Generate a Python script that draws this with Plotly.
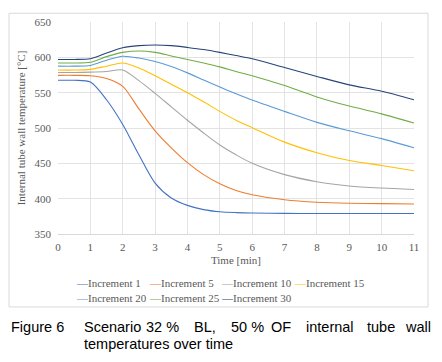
import plotly.graph_objects as go

time_min = [0, 0.5, 1, 1.5, 2, 2.5, 3, 3.5, 4, 4.5, 5, 5.5, 6, 7, 8, 9, 10, 11]

inc1 = [567.5, 567.5, 565, 540, 505, 462, 422, 401, 390.5, 384.5, 381.5, 380.3, 379.7, 379.2, 379, 379, 379, 379]
inc5 = [574.5, 574.5, 574, 570, 559, 527, 496, 472, 451, 434, 421, 411.5, 405.5, 398.5, 395, 393.5, 393, 392.5]
inc10 = [578.5, 578.5, 579, 580, 582, 567, 549, 530, 511, 493, 476, 462, 450, 434, 424, 418, 415, 413]
inc15 = [582, 582, 583, 587.5, 592, 585, 574, 562, 550, 537, 523.5, 511, 500.5, 480, 465, 454, 447, 439.5]
inc20 = [587.5, 587.5, 588.5, 596, 601.5, 599, 594, 587, 578, 568, 558, 548.5, 539.5, 523.5, 508, 496, 485, 472]
inc25 = [592, 592, 593, 601, 607, 609, 607, 602, 597, 592, 586.5, 580, 574, 560, 544, 531, 520, 507]
inc30 = [597, 597, 598, 606, 613.5, 616.5, 617.5, 616.5, 614, 611, 607, 602.5, 598, 585.5, 573, 561, 552, 540]

series_names = ["Increment 1", "Increment 5", "Increment 10", "Increment 15",
                "Increment 20", "Increment 25", "Increment 30"]
series_values = [inc1, inc5, inc10, inc15, inc20, inc25, inc30]
colors = ["#4472C4", "#ED7D31", "#A5A5A5", "#FFC000", "#5B9BD5", "#70AD47", "#264478"]

x_ticks = list(range(0, 12))
y_ticks = [350, 400, 450, 500, 550, 600, 650]

caption_line1 = ["Figure 6", "Scenario", "32 %", "BL,", "50 %", "OF", "internal", "tube", "wall"]
caption_line2 = "temperatures over time"

# the page body adds an 8px offset; figure is sized to fit the window
OFF = 8
W, H = 442 - OFF, 362 - OFF
ML, MT = 58 - OFF, 16 - OFF
MR = W - (414 - OFF)
MB = H - (234 - OFF)
PW, PH = W - ML - MR, H - MT - MB


def px_x(p):
    return (p - OFF - ML) / PW


def px_y(p):
    return (H - MB - (p - OFF)) / PH


fig = go.Figure()
for name, vals, col in zip(series_names, series_values, colors):
    fig.add_trace(go.Scatter(
        x=time_min, y=vals, mode="lines", name=name,
        line=dict(color=col, width=1.1, shape="spline", smoothing=0.8),
        showlegend=False,
    ))

serif = "Liberation Serif, Times New Roman, serif"
tick_font = dict(family=serif, size=11, color="#595959")

fig.update_layout(
    width=W, height=H,
    margin=dict(l=ML, r=MR, t=MT, b=MB),
    paper_bgcolor="white", plot_bgcolor="white",
    xaxis=dict(range=[0, 11], tickvals=x_ticks, ticktext=[str(v) for v in x_ticks],
               showgrid=True, gridcolor="#E3E3E3", gridwidth=1, zeroline=False,
               showline=True, linecolor="#D9D9D9", linewidth=1,
               ticks="", tickfont=tick_font, ticklabelstandoff=3,
               title=dict(text="Time [min]", font=dict(family=serif, size=11, color="#595959"),
                          standoff=4)),
    yaxis=dict(range=[350, 650], tickvals=y_ticks, ticktext=[str(v) for v in y_ticks],
               showgrid=True, gridcolor="#E3E3E3", gridwidth=1, zeroline=False,
               showline=False, ticks="", tickfont=tick_font, ticklabelstandoff=6,
               title=dict(text="Internal tube wall temperature [°C]",
                          font=dict(family=serif, size=11, color="#595959"), standoff=6)),
    showlegend=False,
)

# chart area border
fig.add_shape(type="rect", xref="paper", yref="paper",
              x0=px_x(9), x1=px_x(428), y0=px_y(309), y1=px_y(7),
              line=dict(color="#D9D9D9", width=1), fillcolor="rgba(0,0,0,0)", layer="below")

# legend (colored dash + name)
leg_pos = [(74, 284), (147, 284), (219, 284), (292, 284), (74, 300), (147, 300), (219, 300)]
for (lx, ly), name, col in zip(leg_pos, series_names, colors):
    fig.add_annotation(
        xref="paper", yref="paper", x=px_x(lx), y=px_y(ly),
        xanchor="left", yanchor="middle", showarrow=False,
        text=f"<span style='color:{col}'>—</span>{name}",
        font=dict(family=serif, size=11, color="#595959"),
    )

# caption
cap_font = dict(family="Liberation Sans, Arial, sans-serif", size=14.5, color="black")
cap_x = [9, 82, 144, 192, 229, 269, 304, 365, 403]
for cx, word in zip(cap_x, caption_line1):
    fig.add_annotation(xref="paper", yref="paper", x=px_x(cx), y=px_y(330),
                       xanchor="left", yanchor="middle", showarrow=False,
                       text=word, font=cap_font)
fig.add_annotation(xref="paper", yref="paper", x=px_x(82), y=px_y(347),
                   xanchor="left", yanchor="middle", showarrow=False,
                   text=caption_line2, font=cap_font)

fig.write_html("out.html")
